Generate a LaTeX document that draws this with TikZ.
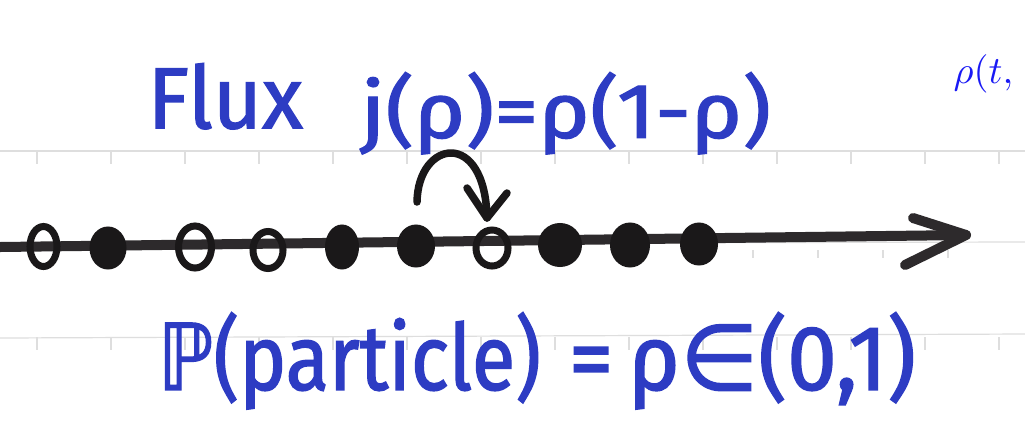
\documentclass[tikz,border=0pt]{standalone}
\usepackage{fontspec}
\usepackage{graphicx}
\usetikzlibrary{shapes.geometric}
\newfontfamily\handfont[FakeBold=1.6]{Fira Sans}
\newfontfamily\handsym[FakeBold=1.6]{DejaVu Sans}
\definecolor{ink}{RGB}{45,60,195}
\definecolor{texblue}{RGB}{25,25,245}
\definecolor{marker}{RGB}{26,24,25}
\definecolor{axisgray}{RGB}{45,42,44}
\definecolor{rulegray}{RGB}{222,222,222}
\begin{document}
\begin{tikzpicture}[x=0.01cm,y=-0.01cm,
  opendot/.style={ellipse,draw=marker,line width=0.07cm,inner sep=0pt},
  fulldot/.style={ellipse,fill=marker,inner sep=0pt},
  axisline/.style={draw=axisgray,line width=0.1cm,line cap=round,line join=round},
  jumpline/.style={draw=marker,line width=0.075cm,line cap=round,line join=round},
  ruleline/.style={draw=rulegray,line width=0.012cm},
  hw/.style={inner sep=0pt,text=ink}]
\useasboundingbox (0,0) rectangle (1025,421);
\fill[white] (0,0) rectangle (1025,421);
% faint paper rulings
\draw[ruleline] (0,151) -- (1025,151);
\foreach \x in {37,111,...,999} \draw[ruleline] (\x,151) -- (\x,164);
\draw[ruleline] (0,338) -- (1025,334);
\foreach \x in {37,111,...,999} \draw[ruleline] (\x,337) -- (\x,350);
\draw[ruleline] (0,244) -- (1025,242);
\foreach \x in {753,818,883,948} \draw[ruleline] (\x,250) -- (\x,258);
% axis
\coordinate (axstart) at (0,247);
\coordinate (tip) at (966,235);
\coordinate (armA) at (913,218);
\coordinate (armB) at (905,265);
\draw[axisline] (axstart) -- (tip);
\draw[axisline] (armA) -- (tip) -- (armB);
% sites
\node[opendot,minimum width=0.27cm,minimum height=0.40cm] (d1) at (43.5,246.5) {};
\node[fulldot,minimum width=0.37cm,minimum height=0.43cm] (d2) at (108,248) {};
\node[opendot,minimum width=0.33cm,minimum height=0.42cm] (d3) at (195,247) {};
\node[opendot,minimum width=0.30cm,minimum height=0.37cm] (d4) at (268,250) {};
\node[fulldot,minimum width=0.34cm,minimum height=0.45cm] (d5) at (342,247) {};
\node[fulldot,minimum width=0.38cm,minimum height=0.43cm] (d6) at (416,246) {};
\node[opendot,minimum width=0.32cm,minimum height=0.36cm] (d7) at (492,248) {};
\node[fulldot,minimum width=0.44cm,minimum height=0.44cm] (d8) at (560,245) {};
\node[fulldot,minimum width=0.40cm,minimum height=0.45cm] (d9) at (630,245) {};
\node[fulldot,minimum width=0.38cm,minimum height=0.43cm] (d10) at (699,244) {};
% jump arrow from d6 to d7
\coordinate (js) at (417,202);
\coordinate (je) at (487,218);
\coordinate (ja) at (467,188);
\coordinate (jb) at (507,193);
\draw[jumpline] (js) .. controls (418,140) and (485,128) .. (je);
\draw[jumpline] (ja) -- (je) -- (jb);
% texts
\node[hw,anchor=south west] (flux) at (147,130) {\resizebox{1.55cm}{0.65cm}{\handfont Flux}};
\node[hw,anchor=south west] (jrho) at (360,155) {\resizebox*{4.10cm}{0.82cm}{\handfont j(ρ)=ρ(1-ρ)}};
\node[hw,anchor=south west] (prob) at (157,410) {\resizebox*{3.83cm}{0.97cm}{{\handsym ℙ}\handfont(particle)}};
\node[hw,anchor=south west] (prob2) at (568,410) {\resizebox*{3.47cm}{0.97cm}{\handfont={\handsym\,}ρ{\handsym ∈}(0,1)}};
\node[anchor=base west,inner sep=0pt,text=texblue,font=\fontsize{11.4}{13}\selectfont] (rhot) at (953,83) {$\rho(t,$};
\end{tikzpicture}
\end{document}
